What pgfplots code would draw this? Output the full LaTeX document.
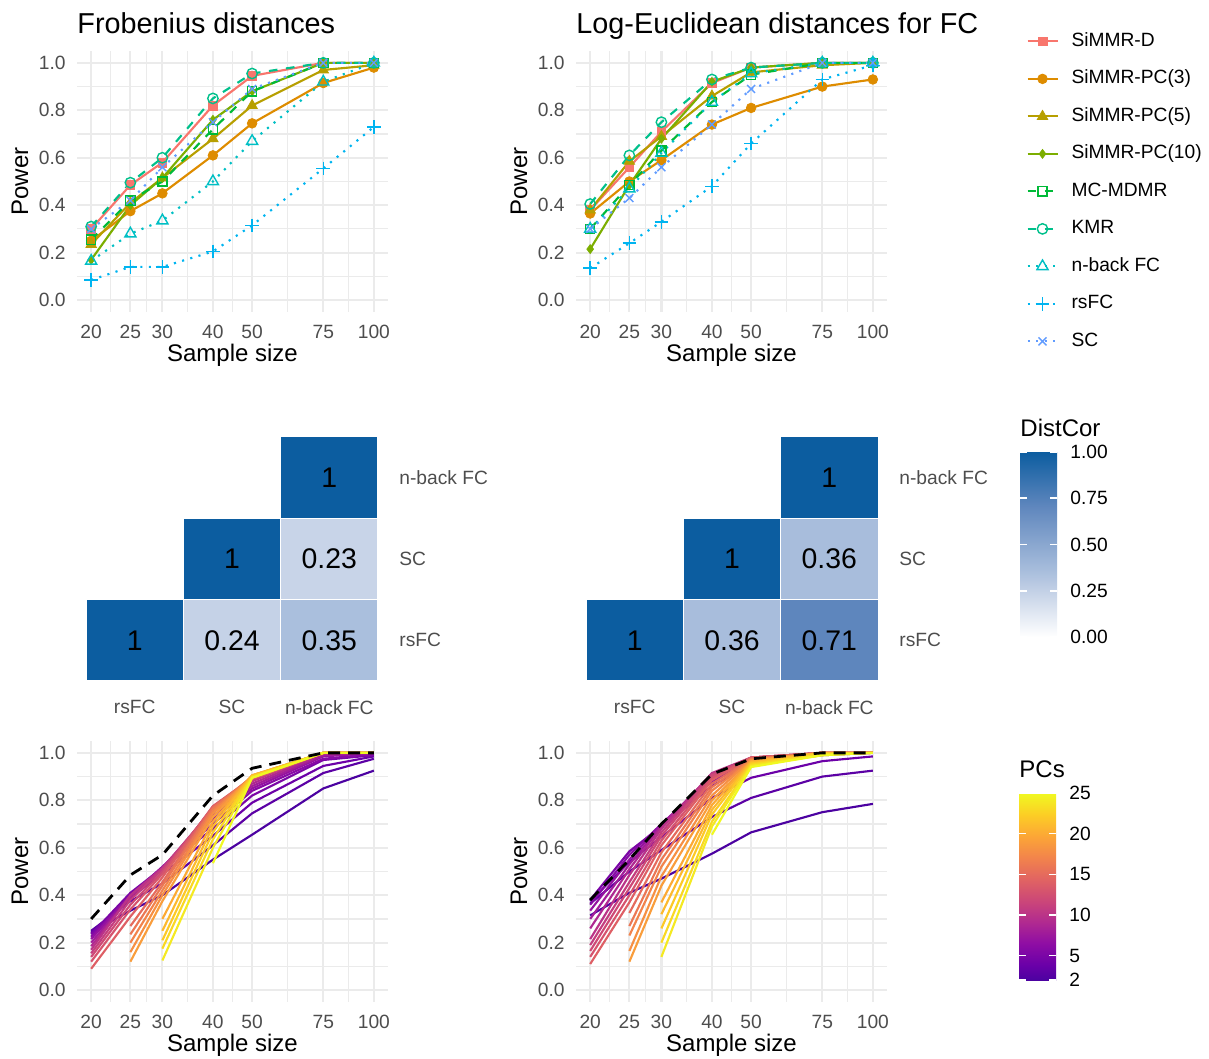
\documentclass[border=0pt]{standalone}
\usepackage{fontspec}
\setmainfont{Liberation Sans}
\usepackage{pgfplots}
\usepackage{pgfplotstable}
\pgfplotsset{compat=1.18}

\definecolor{gridc}{HTML}{EBEBEB}
\definecolor{tickc}{HTML}{4D4D4D}
\definecolor{cD}{HTML}{F8766D}
\definecolor{cP3}{HTML}{DE8C00}
\definecolor{cP5}{HTML}{B79F00}
\definecolor{cP10}{HTML}{7CAE00}
\definecolor{cMC}{HTML}{00BA38}
\definecolor{cKMR}{HTML}{00C08B}
\definecolor{cNB}{HTML}{00BFC4}
\definecolor{cRS}{HTML}{00B4F0}
\definecolor{cSC}{HTML}{619CFF}

\newcommand\tickf{\fontsize{9.6}{11}\selectfont}
\newcommand\labf{\fontsize{12}{14}\selectfont}
\newcommand\titf{\fontsize{14.4}{16}\selectfont}
\newcommand\numf{\fontsize{14.2}{16}\selectfont}

% power by method, Frobenius distances
\pgfplotstableread{
n   D     P3    P5    P10   MC    KMR   NB    RS    SC
20  0.30  0.25  0.235 0.17  0.255 0.31  0.165 0.085 0.30
25  0.485 0.375 0.41  0.40  0.42  0.495 0.28  0.14  0.42
30  0.58  0.45  0.515 0.515 0.50  0.60  0.335 0.14  0.56
40  0.82  0.61  0.68  0.76  0.72  0.85  0.50  0.205 0.75
50  0.945 0.745 0.82  0.88  0.88  0.955 0.67  0.315 0.89
75  1.00  0.915 0.97  1.00  1.00  1.00  0.92  0.555 1.00
100 1.00  0.98  0.99  1.00  1.00  1.00  1.00  0.73  1.00
}\frob

% power by method, log-Euclidean distances
\pgfplotstableread{
n   D     P3    P5    P10   MC    KMR   NB    RS    SC
20  0.38  0.365 0.38  0.215 0.30  0.405 0.30  0.135 0.30
25  0.56  0.50  0.585 0.485 0.485 0.61  0.47  0.24  0.43
30  0.71  0.59  0.69  0.68  0.63  0.75  0.62  0.33  0.56
40  0.915 0.74  0.86  0.92  0.835 0.93  0.835 0.48  0.74
50  0.98  0.81  0.96  0.98  0.95  0.98  0.955 0.66  0.89
75  1.00  0.90  0.99  1.00  1.00  1.00  1.00  0.93  1.00
100 1.00  0.93  1.00  1.00  1.00  1.00  1.00  0.99  1.00
}\logeu

% power by number of PCs, Frobenius
\pgfplotstableread{
n   D     p2    p3    p4    p5    p6    p7    p8    p9    p10   p11   p12   p13   p14   p15   p16   p17   p18   p19   p20   p21   p22   p23   p24   p25
20  0.30  0.245 0.25  0.24  0.235 0.225 0.215 0.20  0.185 0.17  0.155 0.14  0.12  0.09  nan   nan   nan   nan   nan   nan   nan   nan   nan   nan   nan
25  0.485 0.335 0.375 0.39  0.41  0.40  0.40  0.395 0.395 0.40  0.38  0.36  0.34  0.31  0.27  0.235 0.20  0.16  0.12  nan   nan   nan   nan   nan   nan
30  0.57  0.40  0.45  0.49  0.515 0.515 0.52  0.515 0.515 0.515 0.51  0.50  0.49  0.475 0.455 0.44  0.42  0.40  0.375 0.30  0.25  0.21  0.175 0.125 nan
40  0.82  0.55  0.61  0.65  0.68  0.70  0.72  0.735 0.75  0.76  0.765 0.77  0.775 0.775 0.77  0.765 0.755 0.745 0.73  0.71  0.69  0.665 0.635 0.60  0.535
50  0.935 0.655 0.745 0.79  0.82  0.84  0.85  0.86  0.87  0.88  0.885 0.89  0.89  0.895 0.895 0.90  0.90  0.90  0.905 0.905 0.905 0.90  0.90  0.895 0.895
75  1.00  0.85  0.915 0.945 0.97  0.975 0.985 0.99  0.995 1.00  1.00  1.00  1.00  1.00  1.00  1.00  1.00  1.00  1.00  1.00  1.00  1.00  1.00  1.00  1.00
100 1.00  0.925 0.975 0.985 0.99  0.995 1.00  1.00  1.00  1.00  1.00  1.00  1.00  1.00  1.00  1.00  1.00  1.00  1.00  1.00  1.00  1.00  1.00  1.00  1.00
}\pcfrob

% power by number of PCs, log-Euclidean
\pgfplotstableread{
n   D     p2    p3    p4    p5    p6    p7    p8    p9    p10   p11   p12   p13   p14   p15   p16   p17   p18   p19   p20   p21   p22   p23   p24   p25
20  0.38  0.315 0.365 0.375 0.38  0.36  0.335 0.30  0.26  0.215 0.19  0.165 0.14  0.11  nan   nan   nan   nan   nan   nan   nan   nan   nan   nan   nan
25  0.55  0.41  0.50  0.54  0.585 0.57  0.55  0.53  0.51  0.485 0.455 0.43  0.40  0.37  0.325 0.27  0.23  0.165 0.12  nan   nan   nan   nan   nan   nan
30  0.70  0.47  0.59  0.645 0.69  0.70  0.70  0.695 0.69  0.68  0.665 0.65  0.63  0.61  0.58  0.55  0.52  0.48  0.44  0.37  0.32  0.26  0.20  0.14  nan
40  0.91  0.575 0.73  0.81  0.86  0.88  0.895 0.905 0.91  0.915 0.91  0.905 0.895 0.885 0.87  0.855 0.84  0.82  0.80  0.78  0.76  0.74  0.71  0.69  0.655
50  0.975 0.665 0.81  0.895 0.955 0.965 0.97  0.975 0.975 0.98  0.98  0.98  0.98  0.98  0.975 0.975 0.97  0.97  0.965 0.965 0.96  0.955 0.95  0.945 0.94
75  1.00  0.75  0.90  0.965 0.99  0.995 1.00  1.00  1.00  1.00  1.00  1.00  1.00  1.00  1.00  1.00  1.00  1.00  1.00  1.00  1.00  0.995 0.995 0.99  0.99
100 1.00  0.785 0.925 0.985 1.00  1.00  1.00  1.00  1.00  1.00  1.00  1.00  1.00  1.00  1.00  1.00  1.00  1.00  1.00  1.00  1.00  1.00  1.00  1.00  1.00
}\pcleu

% distance correlations (x: 0 rsFC, 1 SC, 2 n-back FC)
\pgfplotstableread{
x y v
0 0 1
1 0 0.24
2 0 0.35
1 1 1
2 1 0.23
2 2 1
}\dcfrob
\pgfplotstableread{
x y v
0 0 1
1 0 0.36
2 0 0.71
1 1 1
2 1 0.36
2 2 1
}\dcleu

\pgfplotsset{
  colormap={distcor}{rgb255(0cm)=(255,255,255); rgb255(23cm)=(200,212,232);
    rgb255(35cm)=(170,191,221); rgb255(71cm)=(94,134,189); rgb255(100cm)=(12,93,160)},
  colormap={plasmar}{rgb255(13cm)=(76,2,161); rgb255(20cm)=(106,0,168);
    rgb255(30cm)=(143,13,164); rgb255(40cm)=(177,42,144); rgb255(50cm)=(204,71,120);
    rgb255(60cm)=(225,100,98); rgb255(70cm)=(242,132,75); rgb255(80cm)=(252,166,54);
    rgb255(90cm)=(252,206,37); rgb255(100cm)=(240,249,33)},
  powax/.style={
    scale only axis, anchor=south west, width=155.5pt, height=130.5pt,
    xmin=18.45, xmax=108.4, ymin=-0.05, ymax=1.05,
    xtick={20,25,30,40,50,75,100}, xticklabels={20,25,30,40,50,75,100},
    minor xtick={22.36,27.39,34.64,44.72,61.24,86.6},
    ytick={0,0.2,0.4,0.6,0.8,1}, yticklabels={0.0,0.2,0.4,0.6,0.8,1.0},
    minor ytick={0.1,0.3,0.5,0.7,0.9},
    grid=both,
    major grid style={draw=gridc, line width=1.1pt},
    minor grid style={draw=gridc, line width=0.55pt},
    axis line style={draw=none},
    major tick length=0pt, minor tick length=0pt, tick style={draw=none},
    ticklabel style={font=\tickf, text=tickc, inner sep=0pt},
    xticklabel style={anchor=north, yshift=-6.5pt},
    yticklabel style={anchor=east, xshift=-5.5pt},
    xlabel={Sample size}, ylabel={Power},
    label style={font=\labf},
    xlabel style={at={(axis description cs:0.5,-0.19)}, anchor=base},
    ylabel style={at={(axis description cs:-0.1833,0.5)}, anchor=center},
    title style={at={(axis description cs:0,1.022)}, anchor=base west, inner sep=0pt, font=\titf},
  },
  lw/.style={line width=1.07pt},
  dashd/.style={dash pattern=on 4.3pt off 4.3pt},
  dott/.style={dash pattern=on 1.07pt off 3.2pt},
  sD/.style={cD, lw, mark=square*, mark size=2.2pt, mark options={solid, line width=0.4pt}},
  sP3/.style={cP3, lw, mark=*, mark size=2.4pt, mark options={solid, line width=0.4pt}},
  sP5/.style={cP5, lw, mark=triangle*, mark size=3pt, mark options={solid, line width=0.4pt}},
  sP10/.style={cP10, lw, mark=diamond*, mark size=2.2pt, mark options={solid, line width=0.4pt}},
  sMC/.style={cMC, lw, dashd, mark=square, mark size=2.3pt, mark options={solid, line width=0.7pt}},
  sKMR/.style={cKMR, lw, dashd, mark=o, mark size=2.6pt, mark options={solid, line width=0.7pt}},
  sNB/.style={cNB, lw, dott, mark=triangle, mark size=3.2pt, mark options={solid, line width=0.7pt}},
  sRS/.style={cRS, lw, dott, mark=+, mark size=3.4pt, mark options={solid, line width=0.7pt}},
  sSC/.style={cSC, lw, dott, mark=x, mark size=2.8pt, mark options={solid, line width=0.7pt}},
  pc/.style={no marks, line width=1.07pt, color of colormap=#1},
  dline/.style={black, no marks, line width=1.4pt, dash pattern=on 6pt off 4pt},
  hm/.style={
    scale only axis, anchor=south west, width=146pt, height=122pt,
    xmin=-0.5, xmax=2.5, ymin=-0.5, ymax=2.5,
    xtick={0,1,2}, ytick={0,1,2},
    xticklabels={rsFC,SC,n-back FC}, yticklabels={rsFC,SC,n-back FC},
    yticklabel pos=right,
    axis line style={draw=none}, major tick length=0pt, tick style={draw=none},
    ticklabel style={font=\tickf, text=tickc, inner sep=0pt},
    xticklabel style={anchor=north, yshift=-9.5pt},
    yticklabel style={anchor=west, xshift=10.5pt},
    colormap name=distcor, point meta min=0, point meta max=1,
    clip=false,
  },
  tiles/.style={scatter, only marks, mark=square*, mark size=20.33pt,
    point meta=explicit,
    scatter/use mapped color={draw=white, fill=mapped color},
    mark options={xscale=1.1967, line width=0.5pt}},
  tilelabels/.style={only marks, mark=none, point meta=explicit,
    nodes near coords={\pgfmathprintnumber[assume math mode=true]{\pgfplotspointmeta}},
    nodes near coords align=center,
    every node near coord/.append style={font=\numf, text=black, anchor=center}},
  cbar/.style={
    scale only axis,
    at={(parent axis.north east)}, anchor=north west,
    axis line style={draw=none},
    major tick length=3.7pt, tick align=inside, tick style={draw=white, line width=0.8pt},
    ytick pos=both, yticklabel pos=right,
    yticklabel style={font=\tickf, text=black, inner sep=0pt, anchor=west, xshift=6.5pt},
    title style={at={(0,1)}, anchor=base west, yshift=1.5pt, inner sep=0pt, font=\labf},
  },
}

\begin{document}
\begin{tikzpicture}
\useasboundingbox (0,0) rectangle (604.5pt,529.5pt);

% top left: Frobenius
\begin{axis}[powax, xmode=log, at={(38.5pt,373.5pt)}, title={Frobenius distances}]
\addplot[sD]   table[x=n, y=D]   {\frob};
\addplot[sP3]  table[x=n, y=P3]  {\frob};
\addplot[sP5]  table[x=n, y=P5]  {\frob};
\addplot[sP10] table[x=n, y=P10] {\frob};
\addplot[sMC]  table[x=n, y=MC]  {\frob};
\addplot[sKMR] table[x=n, y=KMR] {\frob};
\addplot[sNB]  table[x=n, y=NB]  {\frob};
\addplot[sRS]  table[x=n, y=RS]  {\frob};
\addplot[sSC]  table[x=n, y=SC]  {\frob};
\end{axis}

% top right: log-Euclidean, with the legend
\begin{axis}[powax, xmode=log, at={(288pt,373.5pt)}, title={Log-Euclidean distances for FC},
  legend cell align=left,
  legend image code/.code={\draw[mark repeat=2,mark phase=2]
      plot coordinates {(0pt,0pt) (7.5pt,0pt) (15pt,0pt)};},
  legend style={at={(axis description cs:1.447,1.0728)}, anchor=north west,
    draw=none, fill=none, inner sep=0pt, row sep=9.75pt, column sep=6.5pt, font=\tickf,
    nodes={inner sep=0pt, text height=7pt, text depth=2pt}}]
\addplot[sD]   table[x=n, y=D]   {\logeu};
\addplot[sP3]  table[x=n, y=P3]  {\logeu};
\addplot[sP5]  table[x=n, y=P5]  {\logeu};
\addplot[sP10] table[x=n, y=P10] {\logeu};
\addplot[sMC]  table[x=n, y=MC]  {\logeu};
\addplot[sKMR] table[x=n, y=KMR] {\logeu};
\addplot[sNB]  table[x=n, y=NB]  {\logeu};
\addplot[sRS]  table[x=n, y=RS]  {\logeu};
\addplot[sSC]  table[x=n, y=SC]  {\logeu};
\legend{SiMMR-D,SiMMR-PC(3),SiMMR-PC(5),SiMMR-PC(10),MC-MDMR,KMR,n-back FC,rsFC,SC}
\end{axis}

% heatmaps
\begin{axis}[hm, at={(43pt,189pt)}]
\addplot[tiles] table[x=x, y=y, meta=v] {\dcfrob};
\addplot[tilelabels] table[x=x, y=y, meta=v] {\dcfrob};
\end{axis}
\begin{axis}[hm, at={(293pt,189pt)},
  colorbar, colorbar/width=18.5pt,
  colorbar style={cbar, height=92.5pt, xshift=62.5pt, yshift=-7.5pt,
    ytick={0,0.25,0.5,0.75,1}, yticklabels={0.00,0.25,0.50,0.75,1.00},
    title={DistCor}}]
\addplot[tiles] table[x=x, y=y, meta=v] {\dcleu};
\addplot[tilelabels] table[x=x, y=y, meta=v] {\dcleu};
\end{axis}

% bottom left: number of PCs, Frobenius
\begin{axis}[powax, xmode=log, at={(38.5pt,28.5pt)}, colormap name=plasmar]
\addplot[pc=0]    table[x=n, y=p2]  {\pcfrob};
\addplot[pc=43]   table[x=n, y=p3]  {\pcfrob};
\addplot[pc=87]   table[x=n, y=p4]  {\pcfrob};
\addplot[pc=130]  table[x=n, y=p5]  {\pcfrob};
\addplot[pc=174]  table[x=n, y=p6]  {\pcfrob};
\addplot[pc=217]  table[x=n, y=p7]  {\pcfrob};
\addplot[pc=261]  table[x=n, y=p8]  {\pcfrob};
\addplot[pc=304]  table[x=n, y=p9]  {\pcfrob};
\addplot[pc=348]  table[x=n, y=p10] {\pcfrob};
\addplot[pc=391]  table[x=n, y=p11] {\pcfrob};
\addplot[pc=435]  table[x=n, y=p12] {\pcfrob};
\addplot[pc=478]  table[x=n, y=p13] {\pcfrob};
\addplot[pc=522]  table[x=n, y=p14] {\pcfrob};
\addplot[pc=565]  table[x=n, y=p15] {\pcfrob};
\addplot[pc=609]  table[x=n, y=p16] {\pcfrob};
\addplot[pc=652]  table[x=n, y=p17] {\pcfrob};
\addplot[pc=696]  table[x=n, y=p18] {\pcfrob};
\addplot[pc=739]  table[x=n, y=p19] {\pcfrob};
\addplot[pc=783]  table[x=n, y=p20] {\pcfrob};
\addplot[pc=826]  table[x=n, y=p21] {\pcfrob};
\addplot[pc=870]  table[x=n, y=p22] {\pcfrob};
\addplot[pc=913]  table[x=n, y=p23] {\pcfrob};
\addplot[pc=957]  table[x=n, y=p24] {\pcfrob};
\addplot[pc=1000] table[x=n, y=p25] {\pcfrob};
\addplot[dline]   table[x=n, y=D]   {\pcfrob};
\end{axis}

% bottom right: number of PCs, log-Euclidean
\begin{axis}[powax, xmode=log, at={(288pt,28.5pt)}, colormap name=plasmar,
  point meta min=2, point meta max=25,
  colorbar, colorbar/width=18.5pt,
  colorbar style={cbar, height=93.5pt, xshift=57.5pt, yshift=-26pt,
    ytick={2,5,10,15,20,25}, yticklabels={2,5,10,15,20,25},
    title={PCs}}]
\addplot[pc=0]    table[x=n, y=p2]  {\pcleu};
\addplot[pc=43]   table[x=n, y=p3]  {\pcleu};
\addplot[pc=87]   table[x=n, y=p4]  {\pcleu};
\addplot[pc=130]  table[x=n, y=p5]  {\pcleu};
\addplot[pc=174]  table[x=n, y=p6]  {\pcleu};
\addplot[pc=217]  table[x=n, y=p7]  {\pcleu};
\addplot[pc=261]  table[x=n, y=p8]  {\pcleu};
\addplot[pc=304]  table[x=n, y=p9]  {\pcleu};
\addplot[pc=348]  table[x=n, y=p10] {\pcleu};
\addplot[pc=391]  table[x=n, y=p11] {\pcleu};
\addplot[pc=435]  table[x=n, y=p12] {\pcleu};
\addplot[pc=478]  table[x=n, y=p13] {\pcleu};
\addplot[pc=522]  table[x=n, y=p14] {\pcleu};
\addplot[pc=565]  table[x=n, y=p15] {\pcleu};
\addplot[pc=609]  table[x=n, y=p16] {\pcleu};
\addplot[pc=652]  table[x=n, y=p17] {\pcleu};
\addplot[pc=696]  table[x=n, y=p18] {\pcleu};
\addplot[pc=739]  table[x=n, y=p19] {\pcleu};
\addplot[pc=783]  table[x=n, y=p20] {\pcleu};
\addplot[pc=826]  table[x=n, y=p21] {\pcleu};
\addplot[pc=870]  table[x=n, y=p22] {\pcleu};
\addplot[pc=913]  table[x=n, y=p23] {\pcleu};
\addplot[pc=957]  table[x=n, y=p24] {\pcleu};
\addplot[pc=1000] table[x=n, y=p25] {\pcleu};
\addplot[dline]   table[x=n, y=D]   {\pcleu};
\end{axis}
\end{tikzpicture}
\end{document}
